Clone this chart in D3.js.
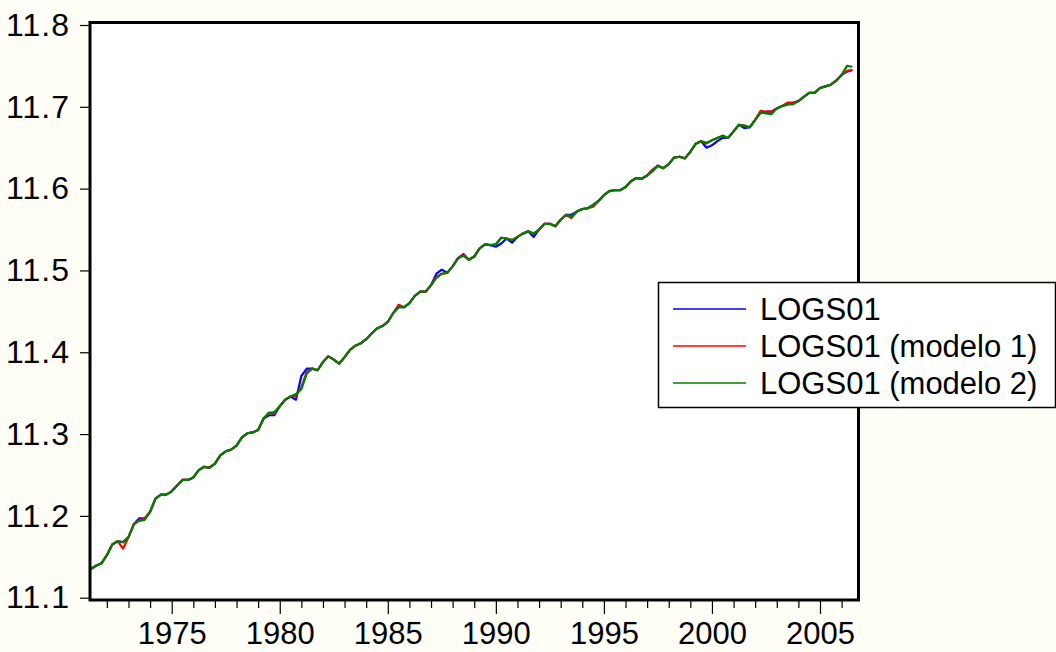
<!DOCTYPE html>
<html>
<head>
<meta charset="utf-8">
<script src="https://cdn.jsdelivr.net/npm/d3@7"></script>
<style>
  html, body { margin: 0; padding: 0; background: #fefef6; }
  svg { display: block; }
  text { font-family: Arial, "Liberation Sans", sans-serif; fill: #000; }
</style>
</head>
<body>
<svg id="chart" width="1056" height="652"></svg>
<script>
// Quarterly observations, 1971Q2 .. 2006Q3
const startYear = 1971.25;

const logs01 = [
  11.135, 11.139, 11.142, 11.152, 11.165, 11.169, 11.168, 11.174, 11.190, 11.197,
  11.197, 11.205, 11.221, 11.226, 11.226, 11.230, 11.237, 11.244, 11.244, 11.247,
  11.256, 11.260, 11.259, 11.264, 11.274, 11.279, 11.281, 11.286, 11.296, 11.301,
  11.302, 11.305, 11.319, 11.323, 11.323, 11.334, 11.342, 11.346, 11.342, 11.371,
  11.380, 11.380, 11.378, 11.388, 11.395, 11.391, 11.386, 11.394, 11.403, 11.408,
  11.411, 11.416, 11.423, 11.429, 11.432, 11.437, 11.448, 11.455, 11.455, 11.460,
  11.469, 11.474, 11.474, 11.482, 11.496, 11.501, 11.497, 11.505, 11.515, 11.520,
  11.513, 11.517, 11.527, 11.532, 11.531, 11.529, 11.533, 11.539, 11.534, 11.541,
  11.545, 11.548, 11.541, 11.550, 11.557, 11.557, 11.554, 11.562, 11.568, 11.568,
  11.572, 11.575, 11.576, 11.580, 11.585, 11.592, 11.597, 11.598, 11.598, 11.602,
  11.609, 11.613, 11.612, 11.616, 11.623, 11.628, 11.625, 11.630, 11.638, 11.639,
  11.637, 11.645, 11.655, 11.658, 11.650, 11.653, 11.658, 11.662, 11.662, 11.670,
  11.678, 11.674, 11.675, 11.684, 11.693, 11.694, 11.694, 11.698, 11.701, 11.703,
  11.705, 11.707, 11.712, 11.717, 11.717, 11.723, 11.725, 11.727, 11.732, 11.739,
  11.743, 11.745
];

const modelo1 = [
  11.135, 11.139, 11.142, 11.152, 11.165, 11.169, 11.160, 11.174, 11.190, 11.195,
  11.197, 11.205, 11.221, 11.226, 11.226, 11.230, 11.237, 11.244, 11.244, 11.247,
  11.256, 11.260, 11.259, 11.264, 11.274, 11.279, 11.281, 11.286, 11.296, 11.301,
  11.302, 11.305, 11.319, 11.326, 11.325, 11.334, 11.342, 11.346, 11.347, 11.357,
  11.376, 11.380, 11.378, 11.388, 11.395, 11.391, 11.386, 11.394, 11.403, 11.408,
  11.411, 11.416, 11.423, 11.429, 11.432, 11.437, 11.448, 11.458, 11.455, 11.460,
  11.469, 11.474, 11.474, 11.482, 11.492, 11.496, 11.497, 11.505, 11.515, 11.519,
  11.513, 11.517, 11.527, 11.532, 11.531, 11.532, 11.540, 11.539, 11.537, 11.541,
  11.545, 11.548, 11.545, 11.550, 11.557, 11.557, 11.554, 11.562, 11.568, 11.564,
  11.572, 11.575, 11.576, 11.578, 11.585, 11.592, 11.597, 11.598, 11.598, 11.602,
  11.609, 11.613, 11.612, 11.616, 11.623, 11.628, 11.625, 11.630, 11.638, 11.639,
  11.637, 11.645, 11.655, 11.658, 11.655, 11.659, 11.662, 11.664, 11.662, 11.670,
  11.678, 11.677, 11.675, 11.684, 11.695, 11.694, 11.694, 11.698, 11.701, 11.705,
  11.705, 11.707, 11.712, 11.717, 11.717, 11.723, 11.725, 11.727, 11.732, 11.739,
  11.744, 11.745
];

const modelo2 = [
  11.135, 11.139, 11.142, 11.152, 11.165, 11.169, 11.168, 11.174, 11.190, 11.194,
  11.195, 11.205, 11.221, 11.226, 11.226, 11.230, 11.237, 11.244, 11.244, 11.247,
  11.256, 11.260, 11.259, 11.264, 11.274, 11.279, 11.281, 11.286, 11.296, 11.301,
  11.302, 11.305, 11.319, 11.326, 11.327, 11.334, 11.342, 11.346, 11.349, 11.355,
  11.374, 11.380, 11.378, 11.388, 11.395, 11.391, 11.386, 11.394, 11.403, 11.408,
  11.411, 11.416, 11.423, 11.429, 11.432, 11.437, 11.448, 11.455, 11.455, 11.460,
  11.469, 11.474, 11.474, 11.482, 11.491, 11.496, 11.497, 11.505, 11.515, 11.518,
  11.513, 11.517, 11.527, 11.532, 11.531, 11.532, 11.540, 11.539, 11.537, 11.541,
  11.545, 11.548, 11.545, 11.550, 11.557, 11.557, 11.554, 11.562, 11.568, 11.566,
  11.572, 11.575, 11.576, 11.580, 11.585, 11.592, 11.597, 11.598, 11.598, 11.602,
  11.609, 11.613, 11.612, 11.616, 11.621, 11.628, 11.625, 11.630, 11.638, 11.639,
  11.637, 11.645, 11.655, 11.658, 11.656, 11.659, 11.662, 11.665, 11.662, 11.670,
  11.678, 11.677, 11.675, 11.684, 11.693, 11.692, 11.691, 11.698, 11.701, 11.703,
  11.703, 11.707, 11.712, 11.717, 11.717, 11.723, 11.725, 11.727, 11.732, 11.739,
  11.750, 11.749
];

const seriesNames = ["LOGS01", "LOGS01 (modelo 1)", "LOGS01 (modelo 2)"];
const seriesColors = ["#0000ff", "#ff0000", "#008000"];
const yTicks = [11.1, 11.2, 11.3, 11.4, 11.5, 11.6, 11.7, 11.8];
const xLabelYears = [1975, 1980, 1985, 1990, 1995, 2000, 2005];
const xMinorYears = d3.range(1972, 2007);

const svg = d3.select("#chart");

// plot frame
const frame = { left: 90, right: 858.5, top: 22.5, bottom: 600 };

const x = d3.scaleLinear().domain([1975, 2005]).range([171.7, 820]);
const y = d3.scaleLinear().domain([11.1, 11.8]).range([597.7, 25]);

svg.append("rect")
  .attr("x", frame.left).attr("y", frame.top)
  .attr("width", frame.right - frame.left)
  .attr("height", frame.bottom - frame.top)
  .attr("fill", "#ffffff");

// y axis ticks and labels
const yAxis = d3.axisLeft(y)
  .tickValues(yTicks)
  .tickSize(10)
  .tickPadding(10)
  .tickFormat(d3.format(".1f"));
const gy = svg.append("g").attr("transform", `translate(${frame.left},0)`).call(yAxis);
gy.select(".domain").remove();
gy.selectAll(".tick line").attr("stroke", "#000").attr("stroke-width", 1.2);
gy.selectAll(".tick text")
  .attr("font-size", 32)
  .attr("letter-spacing", 1)
  .attr("font-family", "Arial, 'Liberation Sans', sans-serif")
  .attr("fill", "#000");

// x axis: minor ticks every year, longer ticks with labels every five years
const gxMinor = svg.append("g").attr("transform", `translate(0,${frame.bottom})`)
  .call(d3.axisBottom(x).tickValues(xMinorYears.filter(yr => yr % 5 !== 0)).tickSize(8).tickFormat(""));
gxMinor.select(".domain").remove();
gxMinor.selectAll(".tick line").attr("stroke", "#000").attr("stroke-width", 1.2);

const gxMajor = svg.append("g").attr("transform", `translate(0,${frame.bottom})`)
  .call(d3.axisBottom(x).tickValues(xLabelYears).tickSize(14).tickPadding(8).tickFormat(d3.format("d")));
gxMajor.select(".domain").remove();
gxMajor.selectAll(".tick line").attr("stroke", "#000").attr("stroke-width", 1.2);
gxMajor.selectAll(".tick text")
  .attr("font-size", 31)
  .attr("font-family", "Arial, 'Liberation Sans', sans-serif")
  .attr("fill", "#000");

// series lines
const allSeries = [logs01, modelo1, modelo2];
const line = d3.line()
  .x((d, i) => x(startYear + i / 4))
  .y(d => y(d));

allSeries.forEach((vals, k) => {
  svg.append("path")
    .datum(vals)
    .attr("fill", "none")
    .attr("stroke", seriesColors[k])
    .attr("stroke-width", 2.2)
    .attr("stroke-linejoin", "round")
    .attr("d", line);
});

// frame border
svg.append("rect")
  .attr("x", frame.left).attr("y", frame.top)
  .attr("width", frame.right - frame.left)
  .attr("height", frame.bottom - frame.top)
  .attr("fill", "none")
  .attr("stroke", "#000")
  .attr("stroke-width", 3);

// legend
const legend = svg.append("g");
legend.append("rect")
  .attr("x", 658.5).attr("y", 282.5)
  .attr("width", 397).attr("height", 125)
  .attr("fill", "#ffffff")
  .attr("stroke", "#000")
  .attr("stroke-width", 1.5);

const legendRowY = [309, 346, 383];
seriesNames.forEach((name, k) => {
  legend.append("line")
    .attr("x1", 673).attr("x2", 746)
    .attr("y1", legendRowY[k]).attr("y2", legendRowY[k])
    .attr("stroke", seriesColors[k])
    .attr("stroke-width", 1.5);
  legend.append("text")
    .attr("x", 760)
    .attr("y", legendRowY[k] + 11)
    .attr("font-size", 31)
    .text(name);
});
</script>
</body>
</html>
